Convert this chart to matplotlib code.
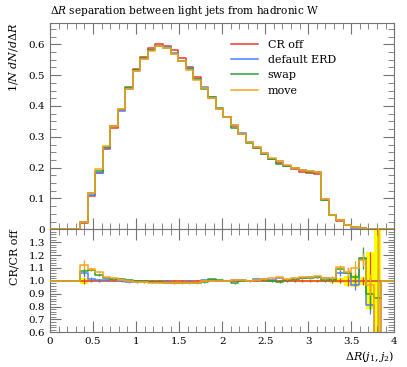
import numpy as np
import matplotlib
matplotlib.use("Agg")
import matplotlib.pyplot as plt
from matplotlib.ticker import MultipleLocator, FormatStrFormatter

plt.rcParams["font.family"] = "serif"
plt.rcParams["font.serif"] = ["DejaVu Serif"]
plt.rcParams["mathtext.fontset"] = "dejavuserif"

# binning: 0.0875 wide bins, filled from 0.35 to 3.85
bin_lo = 0.35
bin_w = 0.0875

# normalised distribution, CR off
cr_off = [0.021, 0.109, 0.182, 0.261, 0.330, 0.387, 0.458, 0.519, 0.558, 0.588,
          0.602, 0.596, 0.580, 0.555, 0.528, 0.495, 0.458, 0.425, 0.390, 0.364,
          0.335, 0.308, 0.282, 0.263, 0.244, 0.227, 0.215, 0.204, 0.196, 0.187,
          0.183, 0.180, 0.095, 0.046, 0.028, 0.013, 0.006, 0.003, 0.001, 0.0004]

# ratios to CR off
ratio_erd = [1.06, 1.015, 1.005, 1.01, 1.015, 0.995, 0.99, 0.99, 0.99, 0.99,
             0.99, 0.99, 0.985, 0.985, 0.99, 0.985, 1.005, 1.01, 1.0, 1.0,
             1.005, 1.01, 1.0, 1.015, 1.015, 1.01, 1.025, 1.01, 1.015, 1.025,
             1.03, 1.03, 1.02, 1.015, 1.06, 1.06, 0.97, 1.17, 0.815, 0.5]
ratio_swap = [1.075, 1.085, 1.045, 1.025, 1.015, 1.012, 1.005, 0.995, 0.995, 0.99,
              0.99, 0.985, 0.98, 0.985, 0.985, 0.985, 0.99, 1.013, 1.005, 1.0,
              0.98, 1.0, 0.995, 1.005, 1.005, 1.0, 0.99, 1.01, 1.015, 1.02,
              1.02, 1.03, 1.01, 1.01, 1.095, 1.06, 1.03, 1.18, 0.90, 0.87]
ratio_move = [1.125, 1.09, 1.07, 1.03, 1.02, 1.01, 0.995, 0.99, 0.99, 0.985,
              0.985, 0.985, 0.98, 0.982, 0.98, 0.98, 1.0, 1.0, 1.0, 1.0,
              1.01, 1.005, 1.0, 1.01, 1.015, 1.02, 1.03, 1.015, 1.02, 1.03,
              1.03, 1.04, 1.02, 1.02, 1.105, 1.065, 1.10, 1.165, 0.97, 0.4]

# relative uncertainties (ratio units)
err_cr_off = [0.025, 0.01, 0.006, 0.005, 0.004, 0.004, 0.004, 0.004, 0.004, 0.004,
              0.004, 0.004, 0.004, 0.004, 0.004, 0.004, 0.004, 0.004, 0.004, 0.004,
              0.005, 0.005, 0.005, 0.005, 0.005, 0.005, 0.006, 0.006, 0.006, 0.006,
              0.006, 0.006, 0.01, 0.015, 0.02, 0.04, 0.045, 0.03, 0.22, 2.0]
err_erd = [0.03, 0.012, 0.008, 0.006, 0.005, 0.005, 0.004, 0.004, 0.004, 0.004,
           0.004, 0.004, 0.004, 0.004, 0.004, 0.004, 0.004, 0.004, 0.005, 0.005,
           0.005, 0.005, 0.005, 0.006, 0.006, 0.006, 0.006, 0.006, 0.007, 0.007,
           0.007, 0.007, 0.01, 0.015, 0.02, 0.04, 0.04, 0.05, 0.07, 0.6]
err_swap = [0.03, 0.012, 0.008, 0.006, 0.005, 0.005, 0.004, 0.004, 0.004, 0.004,
            0.004, 0.004, 0.004, 0.004, 0.004, 0.004, 0.004, 0.004, 0.005, 0.005,
            0.005, 0.005, 0.005, 0.006, 0.006, 0.006, 0.006, 0.006, 0.007, 0.007,
            0.007, 0.007, 0.01, 0.015, 0.02, 0.04, 0.04, 0.085, 0.13, 0.5]
err_move = [0.035, 0.012, 0.008, 0.006, 0.005, 0.005, 0.004, 0.004, 0.004, 0.004,
            0.004, 0.004, 0.004, 0.004, 0.004, 0.004, 0.004, 0.004, 0.005, 0.005,
            0.005, 0.005, 0.005, 0.006, 0.006, 0.006, 0.006, 0.006, 0.007, 0.007,
            0.007, 0.007, 0.01, 0.015, 0.02, 0.04, 0.05, 0.05, 0.08, 1.5]

labels = ["CR off", "default ERD", "swap", "move"]
colors = ["#e8392c", "#4d7fff", "#2ca02c", "#ffa31a"]

n = len(cr_off)
edges = bin_lo + bin_w * np.arange(n + 1)
centers = 0.5 * (edges[:-1] + edges[1:])
cr = np.array(cr_off)
ratios = [np.ones(n), np.array(ratio_erd), np.array(ratio_swap), np.array(ratio_move)]
errs = [np.array(err_cr_off), np.array(err_erd), np.array(err_swap), np.array(err_move)]


def full_step(vals, fill):
    # extend a histogram over the whole 0..4 range
    x = np.concatenate([[0.0], edges, [4.0]])
    y = np.concatenate([[fill], vals, [fill, fill]])
    return x, y


fig = plt.figure(figsize=(4.07, 3.67), dpi=100)
ax = fig.add_axes([0.1229, 0.3752, 0.8459, 0.5629])
rax = fig.add_axes([0.1229, 0.0946, 0.8459, 0.2806])

# ratio band for CR off
band_lo = 1 - errs[0]
band_hi = 1 + errs[0]
rax.fill_between(edges, np.append(band_lo, band_lo[-1]), np.append(band_hi, band_hi[-1]),
                 step="post", color="#ffff00", lw=0, zorder=1)

for i, (lab, col) in enumerate(zip(labels, colors)):
    x, y = full_step(cr * ratios[i], 0.0)
    ax.step(x, y, where="post", color=col, lw=1.1, label=lab, zorder=3 + i)
    xr, yr = full_step(ratios[i], 1.0)
    rax.step(xr, yr, where="post", color=col, lw=1.1, zorder=3 + i)
    rax.vlines(centers, ratios[i] - errs[i], ratios[i] + errs[i], color=col, lw=0.9, zorder=3 + i)

for a in (ax, rax):
    a.set_xlim(0, 4)
    a.xaxis.set_major_locator(MultipleLocator(0.5))
    a.xaxis.set_minor_locator(MultipleLocator(0.1))
    a.xaxis.set_major_formatter(FormatStrFormatter("%g"))
    a.tick_params(which="both", direction="in", top=True, right=True, colors="0.45",
                  labelcolor="black", labelsize=7.5)
    a.tick_params(which="major", length=8, width=0.8)
    a.tick_params(which="minor", length=4, width=0.6)
    for s in a.spines.values():
        s.set_color("0.45")
        s.set_linewidth(0.8)

ax.set_ylim(0, 0.67)
ax.yaxis.set_major_locator(MultipleLocator(0.1))
ax.yaxis.set_minor_locator(MultipleLocator(0.025))
ax.yaxis.set_major_formatter(FormatStrFormatter("%g"))
ax.tick_params(labelbottom=False)
ax.set_ylabel(r"$1/N\;dN/d\Delta R$", loc="top", fontsize=8)
ax.set_title(r"$\Delta R$ separation between light jets from hadronic W",
             loc="left", fontsize=7.6, pad=6)
ax.legend(loc="upper left", bbox_to_anchor=(0.527, 0.918), frameon=False,
          fontsize=8, handlelength=2.4, handletextpad=0.85, labelspacing=0.48,
          borderpad=0, borderaxespad=0)

rax.set_ylim(0.6, 1.4)
rax.yaxis.set_major_locator(MultipleLocator(0.1))
rax.yaxis.set_minor_locator(MultipleLocator(0.02))
rax.set_yticks(np.arange(0.6, 1.31, 0.1))
rax.yaxis.set_major_formatter(FormatStrFormatter("%.1f"))
rax.set_ylabel("CR/CR off", loc="top", fontsize=8)
rax.set_xlabel(r"$\Delta R(j_1, j_2)$", loc="right", fontsize=8, labelpad=2)

for a in (ax, rax):
    a.yaxis.set_label_coords(-0.088, 1.0)

fig.savefig("out.png", dpi=100)
